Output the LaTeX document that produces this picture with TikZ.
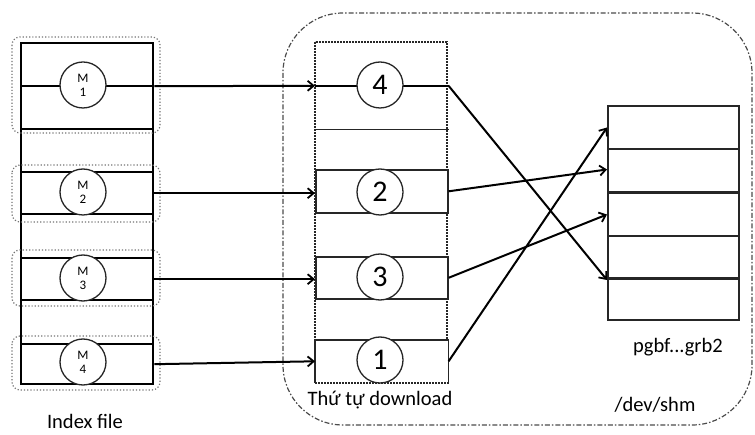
\documentclass[tikz,border=0pt]{standalone}
\usepackage{fontspec}
\setmainfont{Carlito}
\usetikzlibrary{arrows.meta}
\begin{document}
\begin{tikzpicture}[x=1pt,y=-1pt,
  lrow/.style={draw=black,line width=2.4pt,minimum width=132pt,inner sep=0pt,anchor=north west},
  mrow/.style={draw=black!85,line width=1.6pt,minimum width=132pt,inner sep=0pt,anchor=north west,fill=white},
  srow/.style={draw=black!85,line width=2pt,minimum width=131pt,minimum height=43pt,inner sep=0pt,anchor=north west},
  mcirc/.style={circle,draw=black!85,line width=1.3pt,fill=white,minimum size=46pt,inner sep=0pt,align=center,font=\fontsize{13}{14}\selectfont},
  ncirc/.style={circle,draw=black!85,line width=1.3pt,fill=white,minimum size=46pt,inner sep=0pt,font=\fontsize{30}{30}\selectfont},
  grp/.style={draw=black!55,dotted,line width=1.2pt,rounded corners=8pt},
  arr/.style={-{Straight Barb[length=6pt,width=10pt,line width=1.8pt]},line width=2pt,black},
  lbl/.style={font=\fontsize{20.5}{22}\selectfont,inner sep=0pt}]
\useasboundingbox (0,0) rectangle (755,435);

% big dash-dot region
\draw[black!70,line width=1.2pt,dash pattern=on 5pt off 2pt on 1.5pt off 2pt,rounded corners=60pt] (283,13) rectangle (752,425);

% left column (index file)
\node[lrow,minimum height=86pt] (L1) at (20,42) {};
\node[lrow,minimum height=43pt] (G12) at (20,128) {};
\node[lrow,minimum height=42pt] (L2) at (20,171) {};
\node[lrow,minimum height=44pt] (G23) at (20,213) {};
\node[lrow,minimum height=42pt] (L3) at (20,257) {};
\node[lrow,minimum height=44pt] (G34) at (20,299) {};
\node[lrow,minimum height=40pt] (L4) at (20,343) {};
\draw[grp] (12,37) rectangle (160,133);
\draw[grp] (12,165) rectangle (160,222);
\draw[grp] (12,250) rectangle (160,306);
\draw[grp] (12,336) rectangle (160,390);
\draw[line width=2.4pt] (L1.west) -- (L1.east);
\node[mcirc] (m1) at (83,85) {M\\1};
\node[mcirc] (m2) at (83,192) {M\\2};
\node[mcirc] (m3) at (83,278) {M\\3};
\node[mcirc] (m4) at (83,362) {M\\4};
\node[lbl] (idx) at (85,421) {Index file};

% middle column (download order)
\draw[black!85,line width=2pt,dash pattern=on 2pt off 1pt] (315,42) rectangle (447,381);
\node[mrow,minimum height=86pt,draw=none,fill=none] (r4) at (315,42) {};
\draw[black!85,line width=1.6pt] (r4.south west) -- (r4.south east);
\node[mrow,minimum height=43pt] (r2) at (315,169) {};
\node[mrow,minimum height=42pt] (r3) at (315,256) {};
\node[mrow,minimum height=41pt,draw=none] (r1) at (315,340) {};
\draw[black!85,line width=1.6pt] (r1.south west) -- (r1.north west) -- (r1.north east) -- (r1.south east);
\draw[black!85,line width=2pt,dash pattern=on 2pt off 1pt] (r1.south west) -- (r1.south east);
\draw[line width=2pt] (r4.west) -- (r4.east);
\node[ncirc] (c4) at (380,85) {4};
\node[ncirc] (c2) at (380,192) {2};
\node[ncirc] (c3) at (380,277) {3};
\node[ncirc] (c1) at (380,360) {1};
\node[lbl] (dl) at (380,400) {Thứ tự download};

% right column (/dev/shm)
\node[srow] (s1) at (607,105) {};
\node[srow] (s2) at (607,148) {};
\node[srow] (s3) at (607,192) {};
\node[srow] (s4) at (607,235) {};
\node[srow,minimum height=42pt] (s5) at (607,277) {};
\node[lbl] (pg) at (678,347) {pgbf...grb2};
\node[lbl] (shm) at (655,405) {/dev/shm};

% arrows index -> order
\draw[arr] (L1.east) -- (r4.west);
\draw[arr] (L2.east) -- (L2.east -| r2.west);
\draw[arr] (L3.east) -- (L3.east -| r3.west);
\draw[arr] (L4.east) -- (r1.west);

% arrows order -> shm
\draw[arr] (r4.east) -- (s4.south west);
\draw[arr] (r2.east) -- ([yshift=1pt]s2.west);
\draw[arr] (r3.east) -- (s3.west);
\draw[arr] (r1.east) -- (s1.west);
\end{tikzpicture}
\end{document}
